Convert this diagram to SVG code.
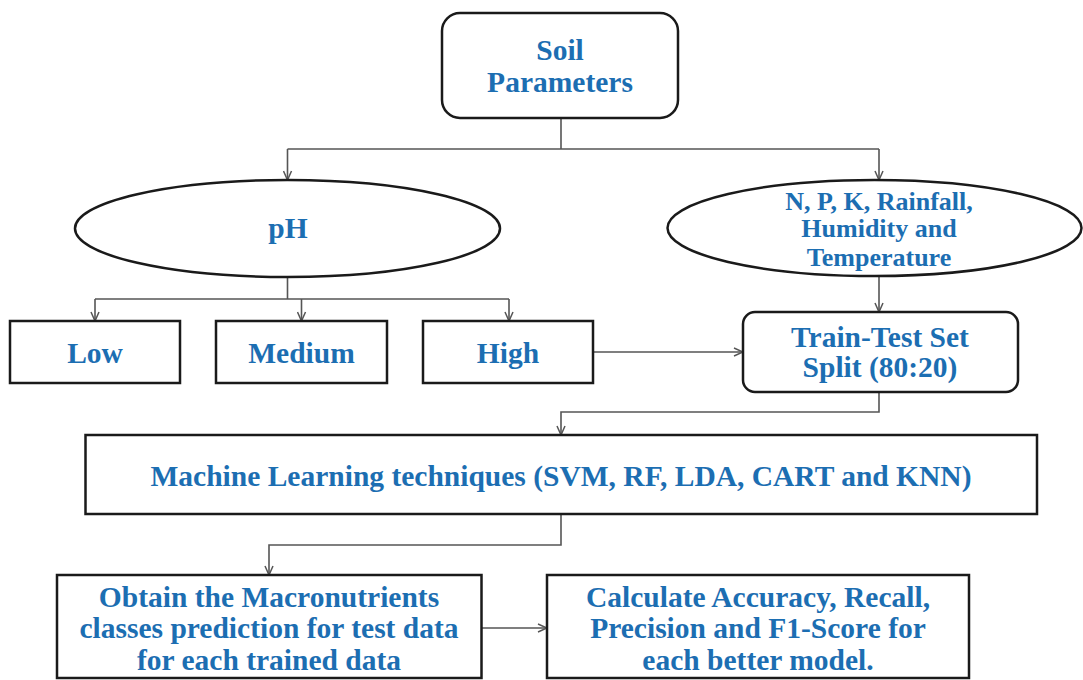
<svg xmlns="http://www.w3.org/2000/svg" width="1083" height="680" viewBox="0 0 1083 680">
<style>
.n{fill:#fff;stroke:#1a1a1a;stroke-width:2.5}
.t{font-family:"Liberation Serif","Times New Roman",serif;font-weight:bold;font-size:29.5px;fill:#1c6eb2;text-anchor:middle}
.s{font-size:26px}
.c{fill:none;stroke:#555;stroke-width:1.6}
</style>
<defs>
<marker id="a" viewBox="0 0 10 10" refX="10" refY="5" markerWidth="10" markerHeight="10" markerUnits="userSpaceOnUse" orient="auto">
<path d="M1,1 L10,5 L1,9" fill="none" stroke="#555" stroke-width="1.5"/>
</marker>
</defs>
<rect width="1083" height="680" fill="#fff"/>
<g id="connectors" class="c">
<path d="M561,118 V149 M287.5,149 H879"/>
<path d="M287.5,149 V180" marker-end="url(#a)"/>
<path d="M879,149 V180" marker-end="url(#a)"/>
<path d="M287.5,277 V299 M95,299 H509"/>
<path d="M95,299 V321" marker-end="url(#a)"/>
<path d="M301.5,299 V321" marker-end="url(#a)"/>
<path d="M509,299 V321" marker-end="url(#a)"/>
<path d="M879,276 V312" marker-end="url(#a)"/>
<path d="M593,352 H743" marker-end="url(#a)"/>
<path d="M879,392 V412 H561 V435" marker-end="url(#a)"/>
<path d="M561,514 V545 H269 V575" marker-end="url(#a)"/>
<path d="M481.5,628 H547" marker-end="url(#a)"/>
</g>
<g id="soil">
<rect class="n" x="442" y="13" width="236" height="105" rx="18"/>
<text class="t" x="560" y="60">Soil</text>
<text class="t" x="560" y="92">Parameters</text>
</g>
<g id="ph">
<ellipse class="n" cx="287.5" cy="228.5" rx="212.5" ry="48.5"/>
<text class="t" x="288" y="238">pH</text>
</g>
<g id="npk">
<ellipse class="n" cx="874.5" cy="228" rx="207" ry="48"/>
<text class="t s" x="879" y="210">N, P, K, Rainfall,</text>
<text class="t s" x="879" y="237">Humidity and</text>
<text class="t s" x="879" y="266">Temperature</text>
</g>
<g id="low">
<rect class="n" x="10" y="321" width="170" height="62"/>
<text class="t" x="95" y="363">Low</text>
</g>
<g id="medium">
<rect class="n" x="216" y="321" width="171" height="62"/>
<text class="t" x="301.5" y="363">Medium</text>
</g>
<g id="high">
<rect class="n" x="423" y="321" width="170" height="62"/>
<text class="t" x="508" y="363">High</text>
</g>
<g id="split">
<rect class="n" x="743" y="312" width="275" height="80" rx="12"/>
<text class="t" x="880" y="347">Train-Test Set</text>
<text class="t" x="880" y="377">Split (80:20)</text>
</g>
<g id="ml">
<rect class="n" x="85.5" y="435" width="951.5" height="79"/>
<text class="t" x="561" y="486">Machine Learning techniques (SVM, RF, LDA, CART and KNN)</text>
</g>
<g id="obtain">
<rect class="n" x="57" y="575" width="424.5" height="103"/>
<text class="t" x="269" y="607">Obtain the Macronutrients</text>
<text class="t" x="269" y="638">classes prediction for test data</text>
<text class="t" x="269" y="670">for each trained data</text>
</g>
<g id="calc">
<rect class="n" x="547" y="575" width="422" height="103"/>
<text class="t" x="758" y="607">Calculate Accuracy, Recall,</text>
<text class="t" x="758" y="638">Precision and F1-Score for</text>
<text class="t" x="758" y="670">each better model.</text>
</g>
</svg>
